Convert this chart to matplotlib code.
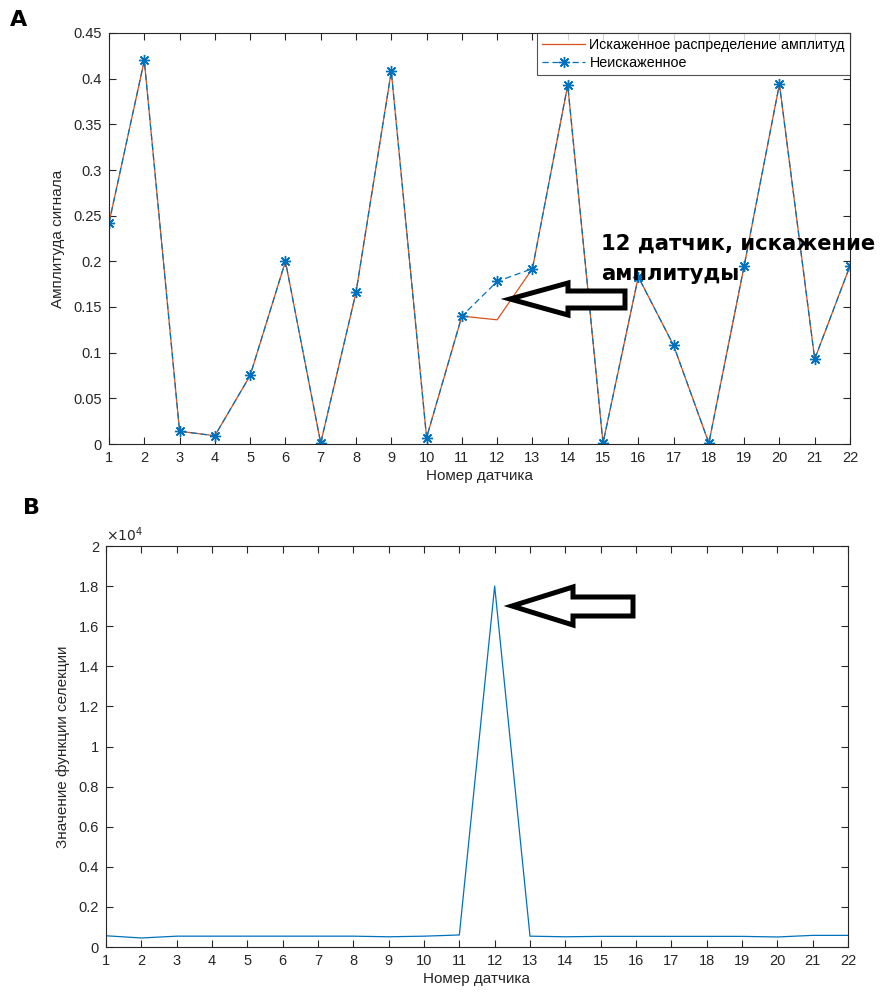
import matplotlib
matplotlib.use("Agg")
import matplotlib.pyplot as plt
from matplotlib.patches import Polygon

plt.rcParams['font.family'] = ['Liberation Sans', 'DejaVu Sans']

sensors = list(range(1, 23))
distorted = [0.242, 0.420, 0.014, 0.009, 0.075, 0.200, 0.001, 0.166, 0.408, 0.007, 0.140,
             0.136, 0.192, 0.393, 0.001, 0.183, 0.108, 0.001, 0.195, 0.394, 0.093, 0.195]
undistorted = [0.242, 0.420, 0.014, 0.009, 0.075, 0.200, 0.001, 0.166, 0.408, 0.007, 0.140,
               0.178, 0.192, 0.393, 0.001, 0.183, 0.108, 0.001, 0.195, 0.394, 0.093, 0.195]
selection = [560, 450, 540, 540, 540, 540, 540, 540, 510, 540, 600,
             18000, 540, 510, 530, 530, 530, 530, 530, 500, 580, 580]

top_yticks = [0, 0.05, 0.1, 0.15, 0.2, 0.25, 0.3, 0.35, 0.4, 0.45]
top_ylabels = ['0', '0.05', '0.1', '0.15', '0.2', '0.25', '0.3', '0.35', '0.4', '0.45']
bot_yticks = [0, 2000, 4000, 6000, 8000, 10000, 12000, 14000, 16000, 18000, 20000]
bot_ylabels = ['0', '0.2', '0.4', '0.6', '0.8', '1', '1.2', '1.4', '1.6', '1.8', '2']

BLUE = '#0072BD'
ORANGE = '#D95319'
AXC = '#262626'
W, H = 885, 996

fig = plt.figure(figsize=(W / 100, H / 100), dpi=100)

def style(ax):
    for s in ax.spines.values():
        s.set_color(AXC)
        s.set_linewidth(0.8)
    ax.tick_params(direction='in', top=True, right=True, length=5, width=0.8,
                   colors=AXC, labelsize=10.5, pad=5)
    ax.set_xlim(1, 22)
    ax.set_xticks(sensors)

ax1 = fig.add_axes([109 / W, 1 - 444 / H, (850 - 109) / W, (444 - 33) / H])
ax1.plot(sensors, distorted, color=ORANGE, lw=0.9, label='Искаженное распределение амплитуд')
ax1.plot(sensors, undistorted, color=BLUE, lw=0.9, ls=(0, (5, 3)), marker=(8, 2, 0), ms=8,
         mew=1.0, label='Неискаженное')
style(ax1)
ax1.set_ylim(0, 0.45)
ax1.set_yticks(top_yticks)
ax1.set_yticklabels(top_ylabels)
ax1.set_xlabel('Номер датчика', fontsize=11, color=AXC, labelpad=3)
ax1.set_ylabel('Амплитуда сигнала', fontsize=11, color=AXC, labelpad=6)
leg = ax1.legend(loc='upper right', borderaxespad=0, fontsize=10.3, frameon=True,
                 fancybox=False, handlelength=3.0, handletextpad=0.3,
                 borderpad=0.35, labelspacing=0.3)
leg.get_frame().set_edgecolor(AXC)
leg.get_frame().set_linewidth(0.8)

ax2 = fig.add_axes([106 / W, 1 - 947 / H, (848 - 106) / W, (947 - 546) / H])
ax2.plot(sensors, selection, color=BLUE, lw=0.9)
style(ax2)
ax2.set_ylim(0, 20000)
ax2.set_yticks(bot_yticks)
ax2.set_yticklabels(bot_ylabels)
ax2.set_xlabel('Номер датчика', fontsize=11, color=AXC, labelpad=3)
ax2.set_ylabel('Значение функции селекции', fontsize=11, color=AXC, labelpad=6)
ax2.text(0.0, 1.005, r'$\times10^{4}$', transform=ax2.transAxes, fontsize=10,
         color=AXC, ha='left', va='bottom')

# panel labels
fig.text(10 / W, 1 - 20 / H, 'A', fontsize=16, fontweight='heavy', ha='left', va='center',
         family='DejaVu Sans')
fig.text(23 / W, 1 - 508 / H, 'B', fontsize=16, fontweight='heavy', ha='left', va='center',
         family='DejaVu Sans')

# annotation text
fig.text(601 / W, 1 - 250 / H, '12 датчик, искажение', fontsize=15.2,
         fontweight='bold', ha='left', va='baseline', family='DejaVu Sans')
fig.text(601 / W, 1 - 280 / H, 'амплитуды', fontsize=15.2,
         fontweight='bold', ha='left', va='baseline', family='DejaVu Sans')

def arrow(tip, head_x, head_top, head_bot, sh_top, sh_bot, right):
    pts = [tip, (head_x, head_top), (head_x, sh_top), (right, sh_top), (right, sh_bot),
           (head_x, sh_bot), (head_x, head_bot)]
    pts = [(x / W, 1 - y / H) for x, y in pts]
    fig.patches.append(Polygon(pts, closed=True, facecolor='white', edgecolor='black',
                               lw=3.6, joinstyle='miter', transform=fig.transFigure,
                               figure=fig))

arrow((510, 299), 568, 283, 315, 291, 308, 625)
arrow((512, 606), 573, 587, 625, 597, 616, 633)

fig.savefig('out.png', dpi=100, facecolor='white')
